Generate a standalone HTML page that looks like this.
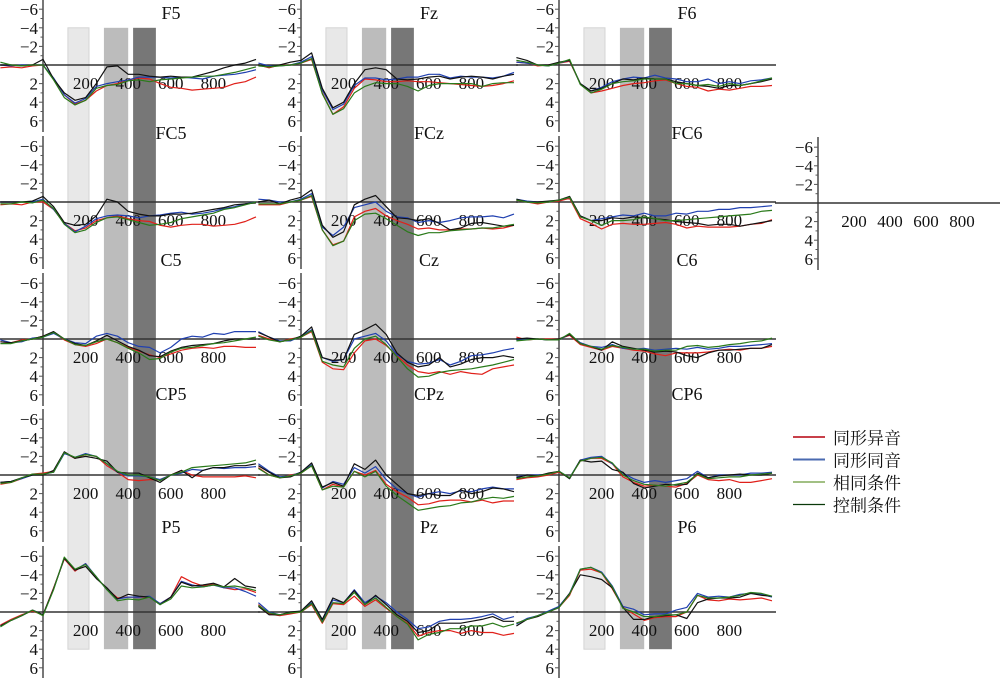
<!DOCTYPE html>
<html><head><meta charset="utf-8">
<style>
body{margin:0;background:#fff;}
svg{display:block;font-family:"Liberation Serif","Noto Serif CJK SC",serif;}
</style></head>
<body>
<svg id="chart" width="1000" height="678" viewBox="0 0 1000 678" xmlns="http://www.w3.org/2000/svg"></svg>
<script>
const times=[-200,-150,-100,-50,0,50,100,150,200,250,300,350,400,450,500,550,600,650,700,750,800,850,900,950,1000];
const seriesNames=["同形异音","同形同音","相同条件","控制条件"];
const seriesColors=["#e0201a","#2040b0","#111111","#2a7a1a"];
const channels=[["F5","Fz","F6"],["FC5","FCz","FC6"],["C5","Cz","C6"],["CP5","CPz","CP6"],["P5","Pz","P6"]];
const windows=[[117,216],[286,400],[423,530]];
const yTicks=[-6,-4,-2,2,4,6];
const xTicks=[200,400,600,800];
// order per channel: red, blue, black, green (µV, negative up)
const F5_red=[0.3,0.2,0.3,0.1,0,1.5,3.2,4.2,3.8,2.8,2.2,2,1.6,1.4,1.5,2,2.4,2.5,2.7,2.6,2.5,2.4,2,1.8,1.3];
const F5_blue=[0,0.1,0,0,0,1.4,3.2,4.1,3.6,2.3,2,1.8,1.6,1.3,1.3,1.3,1.4,1.3,1.4,1.5,1.2,1.1,1,0.8,0.5];
const F5_black=[0,0,0.1,0,-0.6,1.5,3,3.8,3.5,2,0.2,0.1,1,1,1.2,1.3,1.2,1.3,1.3,1,0.7,0.3,0,-0.2,-0.6];
const F5_green=[-0.3,0,0.1,0,0,1.6,3.5,4.3,3.8,2.5,2.2,2.1,1.7,1.6,1.8,1.6,1.5,1.4,1.3,1.2,1.2,1,0.8,0.5,0.2];
const FC5_red=[0.3,0.2,0.3,0,0,0.8,2.3,3.1,2.8,2,1.7,1.5,1.8,2,2.1,2.5,2.7,2.5,2.4,2.4,2.6,2.5,2.4,2.1,1.6];
const FC5_blue=[0,0,0,0,-0.3,0.8,2.3,3.2,2.6,1.8,1.5,1.4,1.5,1.7,1.5,1.4,1.2,1.1,1.3,1.2,1.0,0.7,0.5,0.2,0];
const FC5_black=[0,0,0,-0.1,-0.6,0.5,2.2,2.5,2.4,1.5,-0.3,0,1,1.3,1.5,1.5,1.3,1.3,1.2,1,0.8,0.6,0.3,0.2,0.1];
const FC5_green=[0.2,0.2,0,0.1,-0.2,0.7,2.4,3.3,3,2.2,1.7,1.6,1.9,2.2,2.5,2.4,2.2,1.8,1.6,1.4,1.2,0.8,0.6,0.3,0];
const C5_red=[0.3,0.4,0.1,0,-0.3,-0.7,0.1,0.6,0.8,0.5,0,0.4,0.9,1.3,1.7,2,1.6,1.2,1,0.9,1,0.8,0.8,0.9,0.9];
const C5_blue=[0.1,0.4,0.3,-0.1,-0.2,-0.6,0,0.4,0.5,-0.3,-0.6,-0.3,0.4,0.8,0.9,1.5,0.9,0,-0.3,-0.2,-0.6,-0.5,-0.8,-0.8,-0.8];
const C5_black=[0.3,0.4,0.2,0,-0.3,-0.8,0,0.5,0.7,0.2,-0.4,0.2,0.8,1.2,1.8,1.9,1.3,0.9,0.7,0.6,0.5,0.2,0,0,0];
const C5_green=[0.5,0.5,0.2,0,-0.2,-0.7,0,0.6,0.7,0.3,0,0.4,1,1.5,2.2,2.1,1.4,1,0.9,0.7,0.5,0.4,0.2,0,-0.2];
const CP5_red=[1,0.8,0.4,-0.1,-0.2,-0.4,-2.4,-1.8,-2.2,-2,-1,-0.3,0.5,0.6,0.5,0.5,0,-0.5,0,0.2,0.2,0.2,0.2,0.1,0.3];
const CP5_blue=[0.8,0.7,0.4,0,-0.1,-0.3,-2.3,-1.9,-2.3,-2,-1.2,-0.3,0.1,0.1,0.2,0.5,0,-0.2,-0.6,-0.5,-0.8,-0.7,-0.8,-0.8,-0.9];
const CP5_black=[0.8,0.7,0.3,0,0,-0.5,-2.5,-1.8,-2,-1.8,-1.5,-0.3,-0.2,-0.2,0.3,0.8,0,-0.5,0.3,-0.5,-0.8,-0.8,-1,-1,-1.2];
const CP5_green=[0.9,0.8,0.3,-0.1,-0.1,-0.3,-2.4,-1.9,-2.2,-2,-1.2,-0.4,0,0,0.2,0.6,0,-0.3,-0.8,-0.9,-1,-1.1,-1.2,-1.3,-1.6];
const P5_red=[1.4,0.8,0.3,-0.1,0.3,-2.6,-5.7,-4.4,-5.2,-3.7,-2.5,-1.5,-1.6,-1.6,-1.6,-0.9,-1.6,-3.8,-3.2,-2.8,-3,-2.6,-2.4,-2.5,-2.1];
const P5_blue=[1.5,0.9,0.4,-0.2,0.3,-2.5,-5.8,-4.5,-5.2,-3.8,-2.4,-1.4,-1.6,-1.6,-1.7,-0.9,-1.6,-3.3,-2.9,-2.7,-2.9,-2.6,-2.6,-2.2,-1.7];
const P5_black=[1.5,0.9,0.4,-0.2,0.3,-2.5,-5.8,-4.5,-4.9,-3.6,-2.6,-1.4,-1.9,-1.7,-1.6,-0.8,-1.6,-3.2,-2.8,-2.9,-3.1,-2.7,-3.6,-2.8,-2.6];
const P5_green=[1.6,0.9,0.4,-0.2,0.4,-2.4,-5.9,-4.6,-5.1,-3.8,-2.4,-1.2,-1.4,-1.3,-1.6,-0.8,-1.4,-2.8,-2.6,-2.7,-2.9,-2.7,-2.8,-2.6,-2.3];
const Fz_red=[0,0.3,0,0,-0.2,-0.6,3,5.3,4.5,2.5,1.5,1.6,1.8,1.8,1.7,1.8,1.8,1.9,2,2.1,2.2,2.3,2.2,2,1.7];
const Fz_blue=[-0.2,0.1,0.1,0,-0.3,-0.9,2.7,4.8,4.2,2.2,1.4,1.4,1.6,1.5,1.3,1.3,1,1,1.4,1.2,1.3,1.3,1.4,1.2,0.8];
const Fz_black=[0,0.2,0,-0.3,-0.5,-1.3,2.5,4.6,4,2,0.5,0.3,0.5,1.5,1.6,1.5,1.3,1.2,1.5,1.3,1.2,1.3,1.5,1.2,1.0];
const Fz_green=[0.1,0.2,0.1,0,-0.2,-0.7,3.1,5.3,4.7,3,2.3,1.9,2,2,2.3,2.8,2.2,2,2,2,2,2.3,2,1.9,1.9];
const FCz_red=[0.3,0.3,0.3,0,-0.2,-0.6,3,4.6,4.2,1.6,1,0.7,1.5,2,2.4,2.9,2.8,3,3,2.9,2.9,2.8,2.9,2.8,2.5];
const FCz_blue=[-0.3,-0.2,0,0,-0.3,-0.9,2.7,3.6,2.7,0.6,0.3,0,1,1.6,1.7,2.2,2,2.2,2,1.7,1.6,1.6,1.5,1.7,1.3];
const FCz_black=[0,-0.2,0.2,-0.2,-0.5,-1.3,2.5,3.8,3.2,0.3,-0.3,-0.7,0.5,1.7,1.8,2,1.8,2.3,3,2.8,2.3,2.2,2.4,2.6,2.5];
const FCz_green=[0.2,0.2,0.2,0,-0.2,-0.7,3,4.7,4.2,2,1.3,1.2,1.8,2.5,3.2,3.6,3.3,3.3,3.1,3,2.9,2.8,2.8,2.6,2.4];
const Cz_red=[-0.4,0,0.3,0,-0.2,-0.8,2.5,3.2,3.3,1.5,0.2,0,0.7,1.8,2.8,3.5,3.7,3.5,3.8,3.5,3.7,3.8,3.2,3,2.8];
const Cz_blue=[-0.8,-0.2,0.2,0.2,-0.3,-1,2,2.4,2.2,0,-0.3,-0.6,0.2,1.7,2.4,2.7,2.6,2.2,2.8,2.4,1.8,1.7,1.5,1.2,1];
const Cz_black=[-0.7,-0.2,0.3,0.1,-0.3,-1.3,2,2.3,2.2,-0.5,-1,-1.6,-0.5,1.5,2.5,3,2.8,2,3,2.7,2.2,2,2,1.8,2];
const Cz_green=[-0.3,0.1,0.3,0.1,-0.2,-0.9,2.4,2.8,3,1,0,-0.3,0.6,1.9,3.2,4.1,4,3.6,3.4,3.3,3.2,3,2.8,2.5,2.2];
const CPz_red=[-0.8,0,0.3,0,-0.2,-1,1.6,1,1.3,-0.4,0,-0.5,1,1.8,2.4,3.2,3.1,2.8,2.7,2.7,2.9,2.7,3,2.8,2.8];
const CPz_blue=[-1.2,-0.4,0.2,0.1,-0.3,-1.1,1.4,0.7,1,-0.8,-0.2,-0.9,0.5,1.5,2,2.4,2,1.8,2,1.7,1.8,1.5,1.3,1.5,1.5];
const CPz_black=[-1,-0.3,0.3,0.2,-0.3,-1.3,1.3,0.8,1.2,-1.2,-0.6,-1.6,0,1,2,2.2,2,2.2,2.2,1.6,2,1.8,1.4,1.5,1.8];
const CPz_green=[-0.7,0,0.3,0.1,-0.2,-1,1.6,1.2,1.3,-0.4,0.2,-0.4,1.2,2.2,3,3.8,3.6,3.4,3.3,3,2.9,2.6,2.4,2.5,2.3];
const Pz_red=[-0.8,0.2,0.4,0.2,0,-0.8,1.2,-0.9,-0.8,-1.7,-0.6,-1.3,-0.4,0.5,1.2,2.6,2.2,2,2,2.3,2,2.2,2.2,2.5,2.3];
const Pz_blue=[-1,0,0.3,0.1,-0.1,-1,1,-1.3,-1,-2.4,-1,-1.7,-1,0,0.8,1.8,1.6,1,0.8,0.8,0.7,0.5,0.2,0.8,0.5];
const Pz_black=[-0.6,0.3,0.3,0,-0.1,-1.2,0.8,-1.5,-1,-2.3,-0.8,-1.8,-0.8,0.3,1,2.2,2,1.2,1.2,1.2,1,0.8,0.5,1,1];
const Pz_green=[-0.7,0.1,0.3,0.1,0,-0.9,1.1,-1,-0.9,-2.1,-0.8,-1.5,-0.5,0.5,1.3,3,2.4,2.2,1.8,1.8,1.5,1.5,1.2,1.6,1.3];
const F6_red=[-0.3,-0.2,0.1,0,-0.2,-0.4,2,3,2.8,2.5,2.2,2,1.9,1.7,1.6,2,2.3,2.4,2.8,2.6,2.7,2.5,2.3,2.3,2.2];
const F6_blue=[-0.3,-0.2,0,0.1,-0.2,-0.5,2,2.8,2.4,1.8,1.5,1.3,1.4,1.1,1.4,1.5,1.8,1.8,1.5,2,1.8,2,1.7,1.6,1.4];
const F6_black=[-0.8,-0.5,0,0,-0.3,-0.5,2,2.8,2.5,2,1.5,1.6,1.4,1.5,1.5,1.8,2,2.2,2.3,2.5,2.2,2.2,2,1.8,1.5];
const F6_green=[-0.5,-0.3,0,0.1,-0.2,-0.6,2.1,3,2.6,2,1.8,1.7,1.5,1.5,1.5,2,2,2.2,2.1,2.3,2,2.2,2,1.7,1.4];
const FC6_red=[-0.2,0,0.2,0,-0.1,-0.4,1.8,2.3,2.9,2.4,2.3,2.4,2.4,2.3,2.2,2.4,2.8,2.6,2.7,2.7,2.7,2.6,2.4,2.3,1.9];
const FC6_blue=[-0.3,-0.1,0,0,-0.2,-0.5,1.5,2,1.8,1.6,1.4,1.5,1.2,1.5,1.5,1.2,1.3,1,1,0.8,0.8,0.6,0.6,0.5,0.4];
const FC6_black=[-0.3,0,0,-0.1,-0.2,-0.6,1.5,2,2,1.7,1.8,1.6,1.7,1.8,1.9,2.1,2.2,2.3,2.5,2.4,2.4,2.6,2.4,2.2,2];
const FC6_green=[-0.2,0,0.1,0,-0.2,-0.5,1.6,2,2.5,2,2,1.9,1.6,1.8,2,2,1.9,1.8,1.7,1.6,1.5,1.4,1.3,1,0.9];
const C6_red=[-0.2,0.1,0,0,0,-0.4,0.6,0.9,1.2,0.8,1,1.2,1.3,1.6,1.8,1.5,1.5,1.5,1.4,1.2,1.1,1.2,1,1,0.8];
const C6_blue=[0.1,0,0,0.1,0.1,-0.5,0.4,0.8,0.9,0.6,1,1.1,1,1.2,1.1,1,1.1,0.9,1.1,1,0.8,0.8,0.7,0.6,0.5];
const C6_black=[0,-0.1,0,0.1,0,-0.5,0.5,0.8,1.2,0.3,0.8,1,1.2,1.4,1.3,1.4,1.8,2,1.5,1.2,1.2,1.1,1,1,0.6];
const C6_green=[0.2,0.1,0,0.1,0.1,-0.6,0.5,0.8,1.1,0.7,0.9,1.1,1.1,1.3,1.2,1.2,0.8,0.7,0.9,0.8,0.6,0.5,0.3,0.2,-0.1];
const CP6_red=[0.5,0.3,0.2,0,-0.3,0.3,-1.5,-1.8,-1.8,-1.2,0.2,0.8,1.2,1.1,1.2,1.3,0.9,0,0.5,0.6,0.5,0.8,0.8,0.6,0.4];
const CP6_blue=[0.2,0,0,-0.1,-0.4,0.3,-1.6,-1.9,-2,-1.2,-0.2,0.4,0.8,0.6,0.8,0.6,0.4,-0.4,0.3,0,0,0,-0.2,-0.2,-0.3];
const CP6_black=[0.3,0,0.1,-0.2,-0.4,0.4,-1.6,-1.4,-1.5,-0.6,-0.3,0.9,1.4,1.2,1,1.1,1,-0.2,0.3,0.1,0,-0.1,0,0,-0.2];
const CP6_green=[0.4,0.2,0.1,-0.1,-0.4,0.3,-1.5,-1.8,-1.9,-1.3,0,0.6,1,1.1,1.2,1,0.8,-0.1,0.4,0.3,0.2,0.2,0,-0.1,-0.2];
const P6_red=[1.2,0.8,0.4,0,-0.5,-1.8,-4.5,-4.6,-4.2,-2.5,-0.5,0.2,0.9,0.6,0.5,0.5,0,-1.8,-1.3,-1.2,-1.4,-1.3,-1.4,-1.5,-1.2];
const P6_blue=[1.3,0.7,0.4,-0.1,-0.6,-2,-4.6,-4.8,-4.3,-2.8,-0.6,-0.3,0.3,0.2,0.2,-0.2,-0.5,-2,-1.6,-1.7,-1.6,-1.9,-2,-1.9,-1.6];
const P6_black=[1.5,0.8,0.5,0,-0.5,-2,-4,-3.8,-3.5,-2.6,-0.5,0.8,0.8,0.5,0.4,0.3,0.7,-1,-1.4,-1.5,-1.5,-1.6,-2,-1.8,-1.7];
const P6_green=[1.2,0.8,0.4,0,-0.5,-1.9,-4.6,-4.8,-4.2,-2.7,-0.4,0,0.5,0.5,0.3,0.3,0,-1.8,-1.5,-1.5,-1.6,-1.8,-2.1,-2,-1.7];
const data={
F5:[F5_red,F5_blue,F5_black,F5_green],Fz:[Fz_red,Fz_blue,Fz_black,Fz_green],F6:[F6_red,F6_blue,F6_black,F6_green],
FC5:[FC5_red,FC5_blue,FC5_black,FC5_green],FCz:[FCz_red,FCz_blue,FCz_black,FCz_green],FC6:[FC6_red,FC6_blue,FC6_black,FC6_green],
C5:[C5_red,C5_blue,C5_black,C5_green],Cz:[Cz_red,Cz_blue,Cz_black,Cz_green],C6:[C6_red,C6_blue,C6_black,C6_green],
CP5:[CP5_red,CP5_blue,CP5_black,CP5_green],CPz:[CPz_red,CPz_blue,CPz_black,CPz_green],CP6:[CP6_red,CP6_blue,CP6_black,CP6_green],
P5:[P5_red,P5_blue,P5_black,P5_green],Pz:[Pz_red,Pz_blue,Pz_black,Pz_green],P6:[P6_red,P6_blue,P6_black,P6_green]};

const NS="http://www.w3.org/2000/svg";
const svg=document.getElementById("chart");
const colX=[43,301,559];
const rowZero=[65,202,339,475,612];
const titleY=[19,139,266,400,533];
const PXMS=0.213, PXUV=9.3;
function mk(tag,attrs,parent){const e=document.createElementNS(NS,tag);for(const k in attrs)e.setAttribute(k,attrs[k]);(parent||svg).appendChild(e);return e;}
function xs(c,t){return colX[c]+t*PXMS;}
function ys(r,v){return rowZero[r]+v*PXUV;}

// window bars
const barFills=["#e8e8e8","#bcbcbc","#777777"];
for(let c=0;c<3;c++){
  windows.forEach((w,i)=>{
    const b=mk("rect",{x:xs(c,w[0]),y:ys(0,-4),width:(w[1]-w[0])*PXMS,height:ys(4,4)-ys(0,-4),fill:barFills[i],stroke:i==0?"#d4d4d4":"none"});
    
    
  });
}
function drawAxis(cx,zy,scaleX,g){
  mk("line",{x1:cx,y1:zy-66,x2:cx,y2:zy+67,stroke:"#555","stroke-width":1.6},g);
  for(let v=-6;v<=6;v++){ if(v===0)continue; mk("line",{x1:cx-(v%2===0?4:2.5),y1:zy+v*PXUV,x2:cx,y2:zy+v*PXUV,stroke:"#555","stroke-width":1},g);}
  yTicks.forEach(v=>{const t=mk("text",{x:cx-5,y:zy+v*PXUV+6,"text-anchor":"end","font-size":17,fill:"#111"},g);t.textContent=v<0?"\u2212"+(-v):String(v);});
  mk("line",{x1:cx-43,y1:zy,x2:cx+(scaleX===PXMS?217:182),y2:zy,stroke:"#333","stroke-width":1.6},g);
  xTicks.forEach(t=>{const e=mk("text",{x:cx+t*scaleX,y:zy+24,"text-anchor":"middle","font-size":17,fill:"#111"},g);e.textContent=String(t);});
}
for(let r=0;r<5;r++)for(let c=0;c<3;c++){
  const ch=channels[r][c];
  const g=mk("g",{});
  
  
  drawAxis(colX[c],rowZero[r],PXMS,g);
  const tt=mk("text",{x:colX[c]+128,y:titleY[r],"text-anchor":"middle","font-size":18,fill:"#111"},g);
  
  
  tt.textContent=ch;
  data[ch].forEach((arr,si)=>{
    const pts=arr.map((v,i)=>xs(c,times[i]).toFixed(1)+","+ys(r,v).toFixed(1)).join(" ");
    const pl=mk("polyline",{points:pts,fill:"none",stroke:seriesColors[si],"stroke-width":1.2,"stroke-linejoin":"round"},g);
    
    
  });
}
// key axis
const kg=mk("g",{});


(function(){const save=rowZero[0];drawAxis(818,203,0.18,kg);})();
// legend
const legendColors=["#c8404a","#4a6ab0","#6a9a3a","#0a3a0a"];
const lg=mk("g",{});


seriesNames.forEach((n,i)=>{
  const y=437+i*22.5;
  const e=mk("g",{},lg);
  
  
  mk("line",{x1:793,y1:y,x2:825,y2:y,stroke:legendColors[i],"stroke-width":i<2?2:1.3},e);
  const t=mk("text",{x:833,y:y+7,"font-size":17,fill:"#111","font-family":"Liberation Serif, Noto Serif CJK SC, serif"},e);
  t.textContent=n;
});
</script>
</body></html>
